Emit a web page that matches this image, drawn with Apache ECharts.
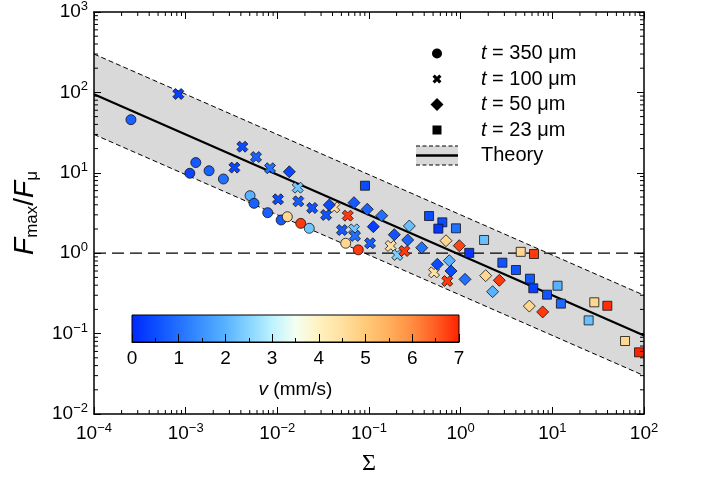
<!DOCTYPE html>
<html><head><meta charset="utf-8">
<script src="https://cdn.jsdelivr.net/npm/echarts@6/dist/echarts.min.js"></script>
<style>html,body{margin:0;padding:0;background:#fff}#c{width:704px;height:482px}</style>
</head><body><div id="c"></div>
<script>
// ---- data ----
const sigma350 = [2.53e-4, 1.29e-3, 1.11e-3, 1.80e-3, 2.58e-3, 5.04e-3, 5.57e-3, 7.85e-3, 0.0110, 0.01285, 0.0180, 0.0223, 0.0557, 0.0764];
const force350 = [45.8, 13.4, 9.86, 10.6, 8.37, 5.19, 4.17, 3.19, 2.59, 2.84, 2.35, 2.04, 1.33, 1.10];
const speed350 = [0.8, 0.7, 0.4, 0.8, 1.0, 2.0, 0.8, 0.8, 0.7, 4.7, 6.8, 2.3, 4.7, 6.8];

const sigma100 = [8.32e-4, 4.15e-3, 5.85e-3, 3.40e-3, 8.32e-3, 0.0167, 0.01017, 0.01694, 0.0240, 0.0418, 0.0340, 0.0586, 0.0507, 0.0686, 0.0703, 0.1026, 0.1725, 0.2038, 0.2428, 0.512, 0.714];
const force100 = [95.5, 21.1, 15.7, 11.6, 11.4, 6.53, 4.68, 4.42, 3.65, 3.72, 2.99, 2.93, 1.94, 1.98, 1.64, 1.33, 1.23, 0.95, 1.065, 0.578, 0.451];
const speed100 = [0.3, 0.5, 0.8, 0.4, 1.0, 2.3, 0.5, 0.7, 0.6, 4.5, 0.6, 6.8, 0.7, 2.3, 1.0, 0.7, 4.5, 2.4, 6.8, 4.5, 6.8];

const sigma50 = [0.01352, 0.0369, 0.0686, 0.0957, 0.1377, 0.1114, 0.1888, 0.2644, 0.2753, 0.376, 0.692, 0.966, 0.556, 0.752, 0.785, 1.115, 1.875, 2.64, 2.23, 5.61, 7.85];
const force50 = [10.3, 3.98, 4.25, 3.52, 2.93, 2.14, 1.70, 1.46, 2.18, 1.17, 1.43, 1.24, 0.728, 0.807, 0.601, 0.473, 0.525, 0.460, 0.332, 0.220, 0.186];
const speed50 = [0.4, 0.5, 0.7, 0.8, 1.0, 0.3, 0.6, 0.8, 2.2, 1.0, 4.7, 6.7, 0.5, 2.0, 0.5, 1.0, 4.7, 6.8, 2.0, 4.7, 6.8];

const sigma23 = [0.0904, 0.452, 0.631, 0.571, 0.889, 1.80, 1.24, 4.52, 6.31, 2.85, 4.01, 5.70, 6.20, 8.75, 11.4, 12.4, 28.7, 39.8, 24.9, 62.1, 88.2];
const force23 = [6.91, 2.90, 2.42, 2.02, 2.04, 1.46, 1.01, 1.04, 0.977, 0.762, 0.618, 0.482, 0.366, 0.305, 0.394, 0.236, 0.245, 0.222, 0.146, 0.0809, 0.0585];
const speed23 = [0.5, 0.5, 0.5, 0.2, 1.0, 2.2, 0.2, 4.7, 6.8, 0.6, 0.6, 0.7, 0.3, 0.6, 2.0, 0.9, 4.7, 6.9, 2.2, 4.7, 7.0];

// theory line and band (end points)
const theorySigma = [1e-4, 1e2];
const theoryForce = [95, 0.095];
const upperForce = [300, 0.30];
const lowerForce = [30, 0.030];
const referenceForce = 1;

const seriesLabels = ['t = 350 μm', 't = 100 μm', 't = 50 μm', 't = 23 μm', 'Theory'];
const xMajorTicks = [1e-4, 1e-3, 1e-2, 1e-1, 1, 10, 100];
const yMajorTicks = [1e-2, 1e-1, 1, 10, 100, 1000];
const colorbarTicks = [0, 1, 2, 3, 4, 5, 6, 7];
const speedColors = ['#0028ff','#0c4cff','#2270ff','#3a92ff','#58b2ff','#86d4ff','#bcf2ff','#f4fff2',
                     '#fff2c0','#ffe0a0','#ffca78','#ffaf5c','#ff8c40','#ff5c22','#ff2200'];

// minor tick positions (2..9 x 10^k)
const xMinor = [], yMinor = [];
for (let k = -4; k < 2; k++) for (let m = 2; m <= 9; m++) xMinor.push(m * Math.pow(10, k));
for (let k = -2; k < 3; k++) for (let m = 2; m <= 9; m++) yMinor.push(m * Math.pow(10, k));

const FONT = 'Liberation Sans, Arial, Helvetica, sans-serif';
const zip3 = (a, b, c) => a.map((v, i) => [v, b[i], c[i]]);

function svgIcon(inner) {
  return 'image://data:image/svg+xml;charset=utf-8,' + encodeURIComponent(
    '<svg xmlns="http://www.w3.org/2000/svg" width="60" height="21" viewBox="0 0 60 21">' + inner + '</svg>');
}
const xPath = 'M0,2.5 L2.5,0 L5,2.5 L7.5,0 L10,2.5 L7.5,5 L10,7.5 L7.5,10 L5,7.5 L2.5,10 L0,7.5 L2.5,5 Z';
const icons = [
  svgIcon('<circle cx="21" cy="10.5" r="5" fill="#000"/>'),
  svgIcon('<path transform="translate(16.5,6) scale(0.9)" d="' + xPath + '" fill="#000"/>'),
  svgIcon('<polygon points="21,4 27.5,10.5 21,17 14.5,10.5" fill="#000"/>'),
  svgIcon('<rect x="16.5" y="6" width="9" height="9" fill="#000"/>'),
  svgIcon('<rect x="0" y="1" width="42" height="19" fill="#d9d9d9"/>' +
          '<line x1="0" y1="1" x2="42" y2="1" stroke="#000" stroke-width="1" stroke-dasharray="4,2.5"/>' +
          '<line x1="0" y1="20" x2="42" y2="20" stroke="#000" stroke-width="1" stroke-dasharray="4,2.5"/>' +
          '<line x1="0" y1="10.5" x2="42" y2="10.5" stroke="#000" stroke-width="2.5"/>')
];

function logLabel(val) {
  const e = Math.round(Math.log10(val));
  return '{b|10}{e|' + String(e).replace('-', '\u2212') + '}';
}
const labelRich = {
  b: { fontSize: 19, lineHeight: 24, fontFamily: FONT, color: '#000' },
  e: { fontSize: 13, lineHeight: 13, verticalAlign: 'top', fontFamily: FONT, color: '#000' }
};

const chart = echarts.init(document.getElementById('c'), null, { renderer: 'canvas' });

const mainAxisCommon = {
  type: 'log', logBase: 10, gridIndex: 0, z: 10,
  axisLine: { show: true, lineStyle: { color: '#000', width: 1.5 } },
  axisTick: { show: true, inside: true, length: 7, lineStyle: { color: '#000', width: 1 } },
  splitLine: { show: false }, minorTick: { show: false }
};

const scatterCommon = {
  type: 'scatter', xAxisIndex: 0, yAxisIndex: 0, z: 5,
  itemStyle: { borderColor: '#111', borderWidth: 0.8, opacity: 1 }
};

function edgeTicks(isX) {
  return function (params, api) {
    const cs = params.coordSys;
    const len = 4;
    const st = { stroke: '#000', lineWidth: 1 };
    if (isX) {
      const x = api.coord([api.value(0), 1])[0];
      return { type: 'group', children: [
        { type: 'line', shape: { x1: x, y1: cs.y + cs.height, x2: x, y2: cs.y + cs.height - len }, style: st },
        { type: 'line', shape: { x1: x, y1: cs.y, x2: x, y2: cs.y + len }, style: st }
      ] };
    } else {
      const y = api.coord([1, api.value(1)])[1];
      return { type: 'group', children: [
        { type: 'line', shape: { x1: cs.x, y1: y, x2: cs.x + len, y2: y }, style: st },
        { type: 'line', shape: { x1: cs.x + cs.width, y1: y, x2: cs.x + cs.width - len, y2: y }, style: st }
      ] };
    }
  };
}

const option = {
  backgroundColor: '#fff',
  animation: false,
  textStyle: { fontFamily: FONT },
  grid: [
    { left: 94, right: 60, top: 12, bottom: 68 },
    { left: 132, width: 327, top: 315, height: 27 }
  ],
  xAxis: [
    Object.assign({}, mainAxisCommon, {
      min: 1e-4, max: 1e2, position: 'bottom',
      axisLabel: { show: true, margin: 8, formatter: logLabel, rich: labelRich },
      name: 'Σ', nameLocation: 'middle', nameGap: 38,
      nameTextStyle: { fontSize: 24, fontFamily: 'Liberation Serif, DejaVu Serif, serif', color: '#000' }
    }),
    Object.assign({}, mainAxisCommon, { min: 1e-4, max: 1e2, position: 'top', axisLabel: { show: false } }),
    {
      type: 'value', gridIndex: 1, min: 0, max: 7, interval: 1, position: 'bottom', z: 10,
      axisLine: { show: true, lineStyle: { color: '#000', width: 1 } },
      axisTick: { show: true, inside: true, length: 8, lineStyle: { color: '#000' } },
      minorTick: { show: true, splitNumber: 2, length: 4, lineStyle: { color: '#000' } },
      splitLine: { show: false },
      axisLabel: { fontSize: 19, margin: 7, color: '#000', fontFamily: FONT,
                   formatter: v => colorbarTicks.includes(v) ? String(v) : '' },
      name: '{i|v} (mm/s)', nameLocation: 'middle', nameGap: 38,
      nameTextStyle: { fontSize: 19, color: '#000', fontFamily: FONT,
                       rich: { i: { fontStyle: 'italic', fontSize: 19, fontFamily: FONT, color: '#000' } } }
    }
  ],
  yAxis: [
    Object.assign({}, mainAxisCommon, {
      min: 1e-2, max: 1e3, position: 'left',
      axisLabel: { show: true, margin: 6, formatter: logLabel, rich: labelRich },
      name: '{f|F}{s|max}{n|/}{f|F}{s|μ}', nameLocation: 'middle', nameGap: 50, nameRotate: 90,
      nameTextStyle: {
        color: '#000', fontFamily: FONT,
        rich: {
          f: { fontSize: 28, fontStyle: 'italic', lineHeight: 32, fontFamily: FONT, color: '#000' },
          n: { fontSize: 28, lineHeight: 32, fontFamily: FONT, color: '#000' },
          s: { fontSize: 17, lineHeight: 17, verticalAlign: 'bottom', fontFamily: FONT, color: '#000' }
        }
      }
    }),
    Object.assign({}, mainAxisCommon, { min: 1e-2, max: 1e3, position: 'right', axisLabel: { show: false } }),
    { type: 'value', gridIndex: 1, min: 0, max: 1, show: false }
  ],
  legend: {
    orient: 'vertical', left: 411, top: 38, itemWidth: 60, itemHeight: 21, itemGap: 4.5,
    selectedMode: false,
    data: seriesLabels.map((n, i) => ({ name: n, icon: icons[i] })),
    formatter: name => name.startsWith('t = ') ? '{i|t}' + name.slice(1) : name,
    textStyle: { fontSize: 20, lineHeight: 21, color: '#000', fontFamily: FONT,
                 rich: { i: { fontStyle: 'italic', fontSize: 20, lineHeight: 21, color: '#000', fontFamily: FONT } } }
  },
  visualMap: {
    type: 'continuous', show: false, min: 0, max: 7, dimension: 2,
    seriesIndex: [5, 6, 7, 8], inRange: { color: speedColors }
  },
  series: [
    { // band fill
      type: 'custom', xAxisIndex: 0, yAxisIndex: 0, z: 1, silent: true,
      data: [[theorySigma[0], upperForce[0]]],
      renderItem: function (params, api) {
        const pts = [
          api.coord([theorySigma[0], upperForce[0]]),
          api.coord([theorySigma[1], upperForce[1]]),
          api.coord([theorySigma[1], lowerForce[1]]),
          api.coord([theorySigma[0], lowerForce[0]])
        ];
        return { type: 'polygon', shape: { points: pts }, style: { fill: '#d9d9d9' } };
      }
    },
    { type: 'line', xAxisIndex: 0, yAxisIndex: 0, z: 2, symbol: 'none', silent: true,
      data: theorySigma.map((s, i) => [s, upperForce[i]]),
      lineStyle: { color: '#000', width: 1, type: [5, 3] } },
    { type: 'line', xAxisIndex: 0, yAxisIndex: 0, z: 2, symbol: 'none', silent: true,
      data: theorySigma.map((s, i) => [s, lowerForce[i]]),
      lineStyle: { color: '#000', width: 1, type: [5, 3] } },
    { name: 'Theory', type: 'line', xAxisIndex: 0, yAxisIndex: 0, z: 3, symbol: 'none', silent: true,
      data: theorySigma.map((s, i) => [s, theoryForce[i]]),
      lineStyle: { color: '#000', width: 2.2 } },
    { type: 'line', xAxisIndex: 0, yAxisIndex: 0, z: 3, symbol: 'none', silent: true,
      data: theorySigma.map(s => [s, referenceForce]),
      lineStyle: { color: '#000', width: 1.3, type: [12, 6] } },
    Object.assign({}, scatterCommon, { name: seriesLabels[0], symbol: 'circle', symbolSize: 10,
      data: zip3(sigma350, force350, speed350) }),
    Object.assign({}, scatterCommon, { name: seriesLabels[1], symbol: 'path://' + xPath, symbolSize: 11,
      data: zip3(sigma100, force100, speed100) }),
    Object.assign({}, scatterCommon, { name: seriesLabels[2], symbol: 'diamond', symbolSize: 12,
      data: zip3(sigma50, force50, speed50) }),
    Object.assign({}, scatterCommon, { name: seriesLabels[3], symbol: 'rect', symbolSize: 9,
      data: zip3(sigma23, force23, speed23) }),
    { type: 'custom', xAxisIndex: 0, yAxisIndex: 0, z: 11, silent: true, clip: false,
      data: xMinor.map(v => [v, 1]), renderItem: edgeTicks(true) },
    { type: 'custom', xAxisIndex: 0, yAxisIndex: 0, z: 11, silent: true, clip: false,
      data: yMinor.map(v => [1, v]), renderItem: edgeTicks(false) },
    { // colorbar
      type: 'custom', xAxisIndex: 2, yAxisIndex: 2, z: 1, silent: true,
      data: [[colorbarTicks[0], 0]],
      renderItem: function (params, api) {
        const p0 = api.coord([colorbarTicks[0], 0]);
        const p1 = api.coord([colorbarTicks[colorbarTicks.length - 1], 1]);
        const stops = speedColors.map((c, i) => ({ offset: i / (speedColors.length - 1), color: c }));
        return { type: 'rect',
          shape: { x: p0[0], y: p1[1], width: p1[0] - p0[0], height: p0[1] - p1[1] },
          style: { fill: new echarts.graphic.LinearGradient(0, 0, 1, 0, stops), stroke: '#000', lineWidth: 1 } };
      }
    }
  ]
};
chart.setOption(option);
</script></body></html>
